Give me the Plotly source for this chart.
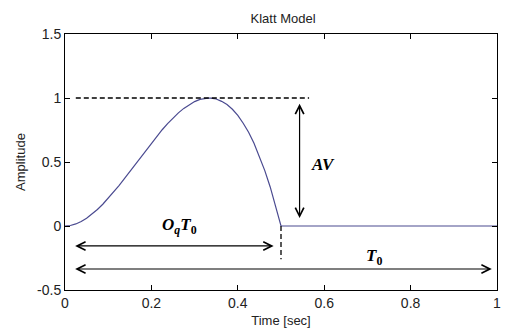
import plotly.graph_objects as go

# Glottal pulse values
time_s = [0, 0.0125, 0.025, 0.0375, 0.05, 0.0625, 0.075, 0.0875, 0.1, 0.1125, 0.125, 0.1375,
          0.15, 0.1625, 0.175, 0.1875, 0.2, 0.2125, 0.225, 0.2375, 0.25, 0.2625, 0.275, 0.2875,
          0.3, 0.3125, 0.325, 0.3333, 0.3375, 0.35, 0.3625, 0.375, 0.3875, 0.4, 0.4125, 0.425,
          0.4375, 0.45, 0.4625, 0.475, 0.4875, 0.5, 1.0]
amplitude = [0, 0.004, 0.016, 0.035, 0.061, 0.092, 0.129, 0.170, 0.216, 0.265, 0.316, 0.370,
             0.425, 0.481, 0.538, 0.593, 0.648, 0.701, 0.752, 0.800, 0.844, 0.884, 0.919, 0.949,
             0.972, 0.989, 0.998, 1.0, 0.999, 0.992, 0.974, 0.949, 0.912, 0.864, 0.803, 0.732,
             0.647, 0.547, 0.433, 0.305, 0.160, 0, 0]

x_ticks = [0, 0.2, 0.4, 0.6, 0.8, 1]
x_tick_labels = ["0", "0.2", "0.4", "0.6", "0.8", "1"]
y_ticks = [-0.5, 0, 0.5, 1, 1.5]
y_tick_labels = ["-0.5", "0", "0.5", "1", "1.5"]

# Annotation geometry (data units)
av_level = 1.0
av_line_x = [0.025, 0.565]
av_arrow_x = 0.543
av_arrow_y = [0.05, 0.955]
open_phase_end = 0.5
open_dash_y = [0, -0.26]
oq_arrow_y = -0.156
oq_arrow_x = [0.02, 0.483]
t0_arrow_y = -0.336
t0_arrow_x = [0.02, 0.988]

fig = go.Figure()
fig.add_trace(go.Scatter(x=time_s, y=amplitude, mode="lines",
                         line=dict(color="#4a4a90", width=1.2), showlegend=False))
fig.add_trace(go.Scatter(x=av_line_x, y=[av_level, av_level], mode="lines",
                         line=dict(color="black", width=1.3, dash="5px,3px"), showlegend=False))
fig.add_trace(go.Scatter(x=[open_phase_end, open_phase_end], y=open_dash_y, mode="lines",
                         line=dict(color="black", width=1.3, dash="5px,3px"), showlegend=False))

def dbl_arrow(x0, y0, x1, y1):
    fig.add_annotation(x=x1, y=y1, ax=x0, ay=y0, xref="x", yref="y", axref="x", ayref="y",
                       text="", showarrow=True, arrowhead=5, startarrowhead=5,
                       arrowside="end+start", arrowsize=1.4, startarrowsize=1.4,
                       arrowwidth=1.2, arrowcolor="black", standoff=0, startstandoff=0)

dbl_arrow(av_arrow_x, av_arrow_y[0], av_arrow_x, av_arrow_y[1])
dbl_arrow(oq_arrow_x[0], oq_arrow_y, oq_arrow_x[1], oq_arrow_y)
dbl_arrow(t0_arrow_x[0], t0_arrow_y, t0_arrow_x[1], t0_arrow_y)

serif = dict(family="Liberation Serif, Times New Roman, serif", size=17, color="black")
fig.add_annotation(x=0.598, y=0.48, xref="x", yref="y", showarrow=False,
                   text="<b><i>AV</i></b>", font=serif)
fig.add_annotation(x=0.265, y=0.0, xref="x", yref="y", showarrow=False,
                   text="<b><i>O<sub>q</sub>T</i><sub>0</sub></b>", font=serif)
fig.add_annotation(x=0.715, y=-0.24, xref="x", yref="y", showarrow=False,
                   text="<b><i>T</i><sub>0</sub></b>", font=serif)

sans = "Liberation Sans, Arial, sans-serif"
axis_common = dict(showgrid=False, zeroline=False, showline=True, linecolor="black",
                   linewidth=1, mirror="ticks", ticks="inside", ticklen=5, tickcolor="black",
                   tickfont=dict(family=sans, size=14, color="#222"))

fig.update_xaxes(range=[0, 1], tickvals=x_ticks, ticktext=x_tick_labels,
                 title=dict(text="Time [sec]", standoff=6,
                            font=dict(family=sans, size=13, color="#222")),
                 **axis_common)
fig.update_yaxes(range=[-0.5, 1.5], tickvals=y_ticks, ticktext=y_tick_labels,
                 title=dict(text="Amplitude", standoff=8,
                            font=dict(family=sans, size=13, color="#222")),
                 **axis_common)

fig.update_layout(
    width=510, height=336,
    margin=dict(l=65, r=9, t=34, b=46),
    paper_bgcolor="white", plot_bgcolor="white",
    title=dict(text="Klatt Model", x=0.555, xanchor="center", y=0.945, yanchor="middle",
               font=dict(family=sans, size=13, color="#222")),
)

fig.write_html("out.html")
